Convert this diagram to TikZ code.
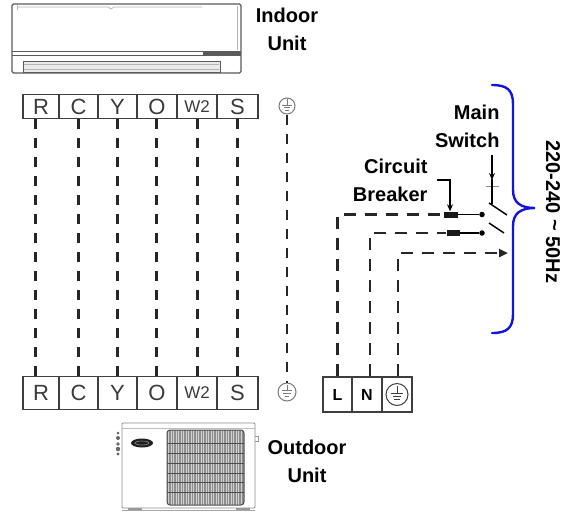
\documentclass[tikz,border=0pt]{standalone}
\usepackage{fontspec}
\setmainfont{Liberation Sans}
\usetikzlibrary{arrows.meta,calc}

\definecolor{unitgray}{HTML}{5A5A5A}
\definecolor{lightgray}{HTML}{B4B4B4}
\definecolor{termgray}{HTML}{3E3E3E}
\definecolor{termtext}{HTML}{3A3A3A}
\definecolor{wiregray}{HTML}{262626}
\definecolor{gndgray}{HTML}{7A7A7A}
\definecolor{grille}{HTML}{8E8E8E}
\definecolor{bracecol}{HTML}{1414E0}

% earth sign inside a ring node: #1 node, #2 colour, #3 size factor
\newcommand{\earthsign}[3]{%
  \draw[draw=#2, line width=1pt] ($(#1)+(0,-7*#3)$) -- ($(#1)+(0,-1*#3)$);
  \draw[draw=#2, line width=1pt] ($(#1)+(-5*#3,-1*#3)$) -- ($(#1)+(5*#3,-1*#3)$);
  \draw[draw=#2, line width=1pt] ($(#1)+(-3.6*#3,1.8*#3)$) -- ($(#1)+(3.6*#3,1.8*#3)$);
  \draw[draw=#2, line width=1pt] ($(#1)+(-2.1*#3,4.5*#3)$) -- ($(#1)+(2.1*#3,4.5*#3)$);
}

\begin{document}
\begin{tikzpicture}[x=1pt,y=-1pt,
  tcell/.style={draw=termgray, line width=1.4pt, inner sep=0pt, text=termtext,
    font=\fontsize{22}{22}\selectfont},
  smallcell/.style={tcell, font=\fontsize{17}{17}\selectfont},
  pcell/.style={draw=termgray, line width=1.4pt, inner sep=0pt,
    minimum height=35pt, font=\bfseries\fontsize{16}{16}\selectfont},
  gndring/.style={circle, draw=gndgray, line width=1pt, inner sep=0pt},
  wire/.style={draw=wiregray, line width=3pt, dash pattern=on 10pt off 9pt},
  gwire/.style={draw=wiregray, line width=2.5pt, dash pattern=on 10pt off 9pt},
  pwire/.style={draw=wiregray, line width=2.8pt, dash pattern=on 12pt off 9pt},
  lbl/.style={font=\bfseries\fontsize{20}{28}\selectfont, align=center},
  pointer/.style={draw=black, line width=1.5pt, -{Stealth[length=7pt,width=6pt]}},
  breaker/.style={fill=black!90, inner sep=0pt, minimum height=6pt},
  contact/.style={circle, fill=black, inner sep=0pt, minimum size=5.5pt},
  unit/.style={draw=unitgray, line width=1.1pt},
  thinunit/.style={draw=lightgray, line width=0.7pt}]

\useasboundingbox (0,0) rectangle (570,515);

% ---------------- indoor unit ----------------
\draw[unit, rounded corners=1.5pt, fill=white] (12,4) rectangle (241,73);
\draw[thinunit] (18,7) -- (108,7) -- (111,9) -- (114,7) -- (202,7);
\draw[thinunit] (237.5,6) -- (237.5,50);
\draw[thinunit] (17,5) -- (17,10);
\draw[unit, line width=0.8pt] (12,51.5) -- (241,51.5);
\draw[unit, line width=0.8pt] (12,55.5) -- (241,55.5);
\fill[unitgray] (203,51.5) rectangle (241,55.5);
\draw[unit, line width=0.9pt, fill=black!8] (23,61) rectangle (220,72.5);
\draw[thinunit] (24,64.5) -- (219,64.5);
\draw[thinunit] (24,69) -- (219,69);

\node[lbl] (indoor) at (287,29) {Indoor\\Unit};

% ---------------- indoor terminal strip ----------------
\node[tcell, minimum width=36pt, minimum height=24pt] (tR) at (41,106.5)   {R};
\node[tcell, minimum width=39pt, minimum height=24pt] (tC) at (78.5,106.5) {C};
\node[tcell, minimum width=39pt, minimum height=24pt] (tY) at (117.5,106.5){Y};
\node[tcell, minimum width=40pt, minimum height=24pt] (tO) at (157,106.5)  {O};
\node[smallcell, minimum width=40pt, minimum height=24pt] (tW) at (197,106.5) {W2};
\node[tcell, minimum width=41pt, minimum height=24pt] (tS) at (237.5,106.5){S};

\node[gndring, minimum size=16pt] (gTop) at (287,106) {};
\earthsign{gTop}{gndgray}{0.95}

% ---------------- outdoor terminal strip ----------------
\node[tcell, minimum width=36pt, minimum height=33pt] (bR) at (41,393)   {R};
\node[tcell, minimum width=39pt, minimum height=33pt] (bC) at (78.5,393) {C};
\node[tcell, minimum width=39pt, minimum height=33pt] (bY) at (117.5,393){Y};
\node[tcell, minimum width=40pt, minimum height=33pt] (bO) at (157,393)  {O};
\node[smallcell, minimum width=40pt, minimum height=33pt] (bW) at (197,393) {W2};
\node[tcell, minimum width=41pt, minimum height=33pt] (bS) at (237.5,393){S};

\node[gndring, minimum size=18pt] (gBot) at (287,392) {};
\earthsign{gBot}{gndgray}{1.05}

% ---------------- control wiring ----------------
\draw[wire] ([xshift=-6pt]tR.south) -- ([xshift=-6pt]bR.north);
\draw[wire] (tC.south) -- (bC.north);
\draw[wire] ([xshift=-0.5pt]tY.south) -- ([xshift=-0.5pt]bY.north);
\draw[wire] ([xshift=-1pt]tO.south) -- ([xshift=-1pt]bO.north);
\draw[wire] (tW.south) -- (bW.north);
\draw[wire] (tS.south) -- (bS.north);
\draw[gwire] (gTop.south) -- (gBot.north);

% ---------------- power terminal block ----------------
\node[pcell, minimum width=29pt] (L) at (337.5,394.5) {L};
\node[pcell, minimum width=30pt] (N) at (367,394.5) {N};
\node[pcell, minimum width=30pt] (G) at (397,394.5) {};
\node[gndring, minimum size=22pt, draw=termgray] (gPow) at (G.center) {};
\earthsign{gPow}{termgray}{1.2}

% ---------------- breakers and main switch ----------------
\node[breaker, minimum width=14pt] (brk1) at (451,214.5) {};
\node[breaker, minimum width=13pt] (brk2) at (453,233) {};
\node[contact] (d1) at (482,214.5) {};
\node[contact] (d2) at (482,233) {};
\draw[line width=1.8pt] (brk1.east) -- (d1);
\draw[line width=1.8pt] (brk2.east) -- (d2);

\draw[pwire] (L.north) |- (brk1.west);
\draw[pwire] ([xshift=3pt]N.north) |- (brk2.west);
\coordinate (gEnd) at (508,253);
\draw[pwire, -{Triangle[length=9pt,width=8pt]}] ([xshift=1pt]G.north) |- (gEnd);

\coordinate (swTop) at (492,155);
\coordinate (swTip) at (492,180);
\draw[pointer] (swTop) -- (swTip);
\draw[draw=black!45, line width=1pt] (486,186) -- (499,186);
\draw[line width=1.5pt] (492,179) -- (492,204);
\draw[line width=1.5pt] (489,203) -- (507,215);
\draw[line width=1.5pt] (489,223) -- (504,233);

% ---------------- labels ----------------
\node[lbl, anchor=east, align=right] (cbLabel) at (431,180) {Circuit\\Breaker};
\coordinate (cbBend) at (450,180);
\draw[pointer] (437,180) -- (cbBend) -- (brk1.north -| cbBend);

\node[lbl, anchor=east, align=right] (msLabel) at (503,126) {Main\\Switch};

% supply brace and rating
\draw[bracecol, line width=2.4pt, line cap=round]
  (492,85) .. controls (507,85) and (513,90) .. (513,104)
  -- (513,190) .. controls (513,203) and (521,208) .. (535,208)
  .. controls (521,208) and (513,213) .. (513,226)
  -- (513,314) .. controls (513,328) and (507,333) .. (492,333);
\node[lbl, rotate=-90] (rating) at (553,212) {220-240 \raisebox{0.1em}{\char`~} 50Hz};

% ---------------- outdoor unit ----------------
\draw[draw=black!45, line width=0.8pt, fill=white, rounded corners=1pt] (122,423) rectangle (255,508);
\draw[draw=black!25, line width=0.7pt] (122,428) -- (255,428);
\fill[black!40] (128,508) rectangle (142,511);
\fill[black!40] (236,508) rectangle (250,511);
\draw[draw=black!35, line width=0.6pt] (122,510.5) -- (255,510.5);
\begin{scope}
  \clip[rounded corners=3pt] (167,430) rectangle (244,505);
  \fill[grille] (167,430) rectangle (244,505);
  \foreach \xx in {168.5,171,...,243} {
    \draw[black!18, line width=0.6pt] (\xx,430) -- (\xx,505);
  }
  \foreach \yy in {443,453,463,473,482,492} {
    \draw[black!70, line width=1pt] (167,\yy) -- (244,\yy);
  }
\end{scope}
\draw[draw=black!70, line width=1pt, rounded corners=3pt] (167,430) rectangle (244,505);
\fill[black!88] (142,443) ellipse [x radius=11pt, y radius=4.5pt];
\draw[black!45, line width=0.6pt] (142,443) ellipse [x radius=7pt, y radius=2pt];
\foreach \yy/\rr in {433/1.5,438/2,444/1.8,449/2.2,454/1.6} {
  \fill[black!60] (118,\yy) circle [radius=\rr pt];
}
\draw[black!40, line width=0.8pt] (255,436) -- (258,436) -- (258,441) -- (255,441);

\node[lbl] (outdoor) at (307,461) {Outdoor\\Unit};

\end{tikzpicture}
\end{document}
